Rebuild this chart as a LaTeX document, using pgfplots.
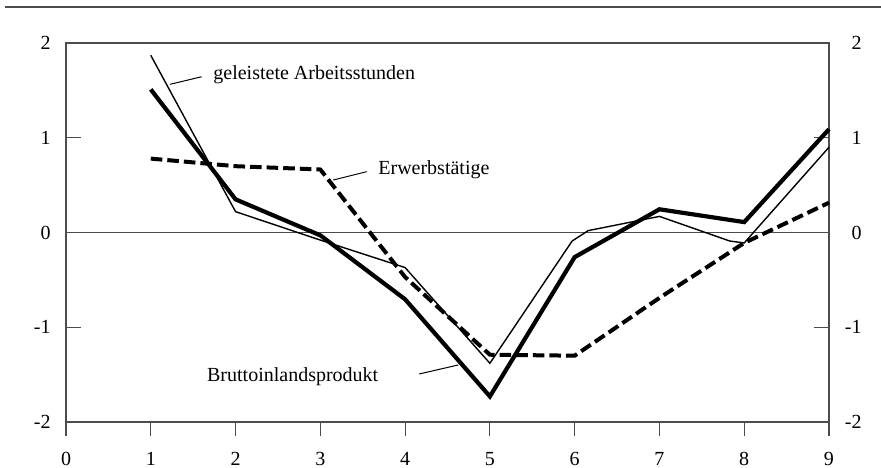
\documentclass[border=0pt]{standalone}
\usepackage{pgfplots}
\pgfplotsset{compat=1.18}
\usepackage{fontspec}
\setmainfont{Liberation Serif}
\begin{document}
\begin{tikzpicture}
\useasboundingbox (0,0) rectangle (440.5pt,233.5pt);
\draw[black!70, line width=0.6pt] (2.5pt,230pt) -- (440.5pt,230pt);
\begin{axis}[
  at={(33pt,22.5pt)}, anchor=south west,
  scale only axis, width=381.5pt, height=189.5pt,
  xmin=0, xmax=9, ymin=-2, ymax=2,
  axis line style={black!70, line width=0.6pt},
  xtick={0,...,9}, xticklabels={0,1,2,3,4,5,6,7,8,9},
  ytick={-2,...,2}, yticklabels={-2,-1,0,1,2},
  xtick pos=left, ytick pos=both,
  tick align=inside,
  major tick length=7.5pt,
  tick style={black!70, line width=0.6pt},
  xtick style={yshift=-7.2pt},
  xticklabel style={inner sep=0pt, yshift=-15pt, anchor=north},
  yticklabel style={inner sep=0pt, xshift=-7.5pt, anchor=east},
  ticklabel style={font=\fontsize{10}{12}\selectfont},
  clip=false,
]
\addplot[black!70, line width=0.5pt, forget plot] coordinates {(0,0) (9,0)};
\addplot[black, line width=0.7pt] coordinates {(1,1.87)(2,0.22)(3,-0.08)(4,-0.37)(5,-1.38)(5.97,-0.09)(6.16,0.02)(7,0.17)(7.83,-0.09)(8,-0.11)(9,0.90)};
\addplot[black, line width=2pt, dash pattern=on 5.8pt off 2.5pt] coordinates {(1,0.78)(2,0.70)(3,0.665)(4,-0.47)(5,-1.29)(6,-1.30)(7,-0.69)(8,-0.11)(9,0.315)};
\addplot[black, line width=2.1pt] coordinates {(1,1.51)(2,0.35)(3,-0.03)(4,-0.705)(5,-1.73)(6,-0.26)(7,0.245)(8,0.11)(9,1.09)};
\draw[black, line width=0.5pt] (axis cs:1.227,1.564) -- (axis cs:1.60,1.644);
\node[anchor=west, inner sep=0pt, font=\fontsize{10}{12}\selectfont] at (axis cs:1.734,1.662) {geleistete Arbeitsstunden};
\draw[black, line width=0.5pt] (axis cs:3.153,0.554) -- (axis cs:3.547,0.642);
\node[anchor=west, inner sep=0pt, font=\fontsize{10}{12}\selectfont] at (axis cs:3.68,0.66) {Erwerbstätige};
\draw[black, line width=0.5pt] (axis cs:4.167,-1.493) -- (axis cs:4.627,-1.398);
\node[anchor=west, inner sep=0pt, font=\fontsize{10}{12}\selectfont] at (axis cs:1.66,-1.522) {Bruttoinlandsprodukt};
\end{axis}
\begin{axis}[
  at={(33pt,22.5pt)}, anchor=south west,
  scale only axis, width=381.5pt, height=189.5pt,
  xmin=0, xmax=9, ymin=-2, ymax=2,
  hide x axis,
  axis line style={draw=none},
  ytick={-2,...,2}, yticklabels={-2,-1,0,1,2},
  ytick pos=right, yticklabel pos=right,
  major tick length=0pt,
  ytick style={draw=none},
  yticklabel style={inner sep=0pt, xshift=16.5pt, anchor=east, font=\fontsize{10}{12}\selectfont},
]
\end{axis}
\end{tikzpicture}
\end{document}
